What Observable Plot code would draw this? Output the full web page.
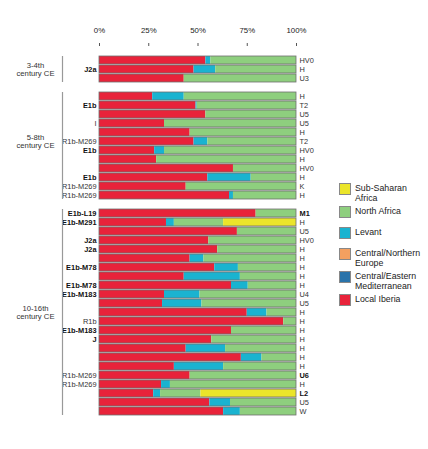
<!DOCTYPE html>
<html>
<head>
<meta charset="utf-8">
<script src="https://cdn.jsdelivr.net/npm/d3@7"></script>
<script src="https://cdn.jsdelivr.net/npm/@observablehq/plot@0.6"></script>
<style>
  html, body { margin: 0; padding: 0; background: #fff; }
  #wrap { position: relative; width: 428px; height: 449px; font-family: "Liberation Sans", Arial, sans-serif; }
  #legend { position: absolute; left: 339px; top: 183px; font-size: 8.8px; color: #222; }
  .item { display: flex; align-items: flex-start; margin-bottom: 3px; min-height: 18px; }
  .sw { width: 12px; height: 12px; box-sizing: border-box; border: 1px solid #888; margin-right: 4px; flex: none; }
  .lab { white-space: pre-line; line-height: 10px; margin-top: 0px; }
</style>
</head>
<body>
<div id="wrap"><div id="legend"></div></div>
<script>
// Ancestry components (stack order left to right) and colours
const components = ["Local Iberia", "Central/Eastern Mediterranean", "Central/Northern Europe", "Levant", "North Africa", "Sub-Saharan Africa"];
const colors = ["#e8233a", "#2a73aa", "#f4a060", "#1ab3d0", "#8ecf7e", "#ebe52a"];
const legendOrder = ["Sub-Saharan Africa", "North Africa", "Levant", "Central/Northern Europe", "Central/Eastern Mediterranean", "Local Iberia"];
const legendText = ["Sub-Saharan\nAfrica", "North Africa", "Levant", "Central/Northern\nEurope", "Central/Eastern\nMediterranean", "Local Iberia"];

// Period groups
const groups = ["3-4th\ncentury CE", "5-8th\ncentury CE", "10-16th\ncentury CE"];
const groupSizes = [3, 12, 23];

// Per-individual rows (top to bottom)
const yHaplo = [
  "", "J2a", "",
  "", "E1b", "", "I", "", "R1b-M269", "E1b", "", "", "E1b", "R1b-M269", "R1b-M269",
  "E1b-L19", "E1b-M291", "", "J2a", "J2a", "", "E1b-M78", "", "E1b-M78", "E1b-M183", "", "", "R1b", "E1b-M183", "J", "", "", "", "R1b-M269", "R1b-M269", "", "", ""
];
const yBold = [
  0, 1, 0,
  0, 1, 0, 0, 0, 0, 1, 0, 0, 1, 0, 0,
  1, 1, 0, 1, 1, 0, 1, 0, 1, 1, 0, 0, 0, 1, 1, 0, 0, 0, 0, 0, 0, 0, 0
];
const mtDNA = [
  "HV0", "H", "U3",
  "H", "T2", "U5", "U5", "H", "T2", "HV0", "H", "HV0", "H", "K", "H",
  "M1", "H", "U5", "HV0", "H", "H", "H", "H", "H", "U4", "U5", "H", "H", "H", "H", "H", "H", "H", "U6", "H", "L2", "U5", "W"
];
const mtBold = [
  0, 0, 0,
  0, 0, 0, 0, 0, 0, 0, 0, 0, 0, 0, 0,
  1, 0, 0, 0, 0, 0, 0, 0, 0, 0, 0, 0, 0, 0, 0, 0, 0, 0, 1, 0, 1, 0, 0
];
const localIberia = [
  54, 48, 43,
  27, 49, 54, 33, 46, 48, 28, 29, 68, 55, 44, 66,
  79.5, 34, 70, 55.5, 60, 46, 58.5, 43, 67, 33, 32, 75, 93.5, 67, 57, 44, 72, 38, 46, 31.5, 27.5, 56, 63
];
const levant = [
  2.5, 11, 0,
  16, 0.6, 0, 0, 0, 7, 5, 0, 0, 22, 0, 2,
  0, 4, 0, 0, 0, 7, 12, 28.5, 8.5, 18, 20, 10, 0, 0, 0, 20, 10.5, 25, 0, 4.5, 3.5, 10.5, 8.5
];
const northAfrica = [
  43.5, 41, 57,
  57, 50.4, 46, 67, 54, 45, 67, 71, 32, 23, 56, 32,
  20.5, 25, 30, 44.5, 40, 47, 29.5, 28.5, 24.5, 49, 48, 15, 6.5, 33, 43, 36, 17.5, 37, 54, 64, 20.5, 33.5, 28.5
];
const subSaharan = [
  0, 0, 0,
  0, 0, 0, 0, 0, 0, 0, 0, 0, 0, 0, 0,
  0, 37, 0, 0, 0, 0, 0, 0, 0, 0, 0, 0, 0, 0, 0, 0, 0, 0, 0, 0, 48.5, 0, 0
];
const xTicks = [0, 25, 50, 75, 100];

// Build rows with spacer rows between groups
const rows = [];
const domain = [];
const groupData = [];
let k = 0;
groupSizes.forEach((n, g) => {
  if (g > 0) domain.push("sp" + g);
  const ids = [];
  for (let i = 0; i < n; i++, k++) {
    const id = "r" + k;
    ids.push(id);
    domain.push(id);
    rows.push({id, yh: yHaplo[k], yb: yBold[k], mt: mtDNA[k], mb: mtBold[k],
      vals: {"Local Iberia": localIberia[k], "Levant": levant[k], "North Africa": northAfrica[k], "Sub-Saharan Africa": subSaharan[k]}});
  }
  groupData.push({label: groups[g], first: ids[0], last: ids[n - 1], mid: ids[Math.floor((n - 1) / 2)]});
});

const segs = [];
rows.forEach(r => {
  components.forEach(c => {
    const v = r.vals[c] || 0;
    if (v > 0) segs.push({id: r.id, comp: c, value: v});
  });
});

const font = "Liberation Sans, Arial, sans-serif";
const chart = Plot.plot({
  width: 428,
  height: 449,
  marginLeft: 99,
  marginRight: 132,
  marginTop: 45,
  marginBottom: 22,
  style: {fontFamily: font, background: "white", color: "#222"},
  x: {domain: [0, 100], axis: null, label: null},
  y: {domain, paddingInner: 0.1, paddingOuter: 0.05, axis: null, label: null},
  color: {domain: components, range: colors},
  marks: [
    Plot.axisX({anchor: "top", ticks: xTicks, tickFormat: d => d + "%", tickSize: 3, tickPadding: 10, fontSize: 7.8, stroke: "#555", label: null}),
    Plot.barX(segs, Plot.stackX({y: "id", x: "value", fill: "comp", order: components})),
    Plot.barX(rows, {y: "id", x1: 0, x2: 100, fill: "none", stroke: "#6f6f6f", strokeWidth: 0.8}),
    Plot.text(rows.filter(d => d.yh && !d.yb), {y: "id", text: "yh", frameAnchor: "left", textAnchor: "end", dx: -3, fontSize: 7.4, fill: "#333"}),
    Plot.text(rows.filter(d => d.yh && d.yb), {y: "id", text: "yh", frameAnchor: "left", textAnchor: "end", dx: -3, fontSize: 7.4, fontWeight: "bold", fill: "#111"}),
    Plot.text(rows.filter(d => !d.mb), {y: "id", text: "mt", frameAnchor: "right", textAnchor: "start", dx: 3, fontSize: 7.4, fill: "#333"}),
    Plot.text(rows.filter(d => d.mb), {y: "id", text: "mt", frameAnchor: "right", textAnchor: "start", dx: 3, fontSize: 7.4, fontWeight: "bold", fill: "#111"}),
    Plot.ruleX(groupData, {x: 0, y1: "first", y2: "last", dx: -37, stroke: "#999", strokeWidth: 1.2}),
    Plot.text(groupData, {y: "mid", text: "label", frameAnchor: "left", dx: -64, textAnchor: "middle", lineAnchor: "middle", fontSize: 7.7, lineHeight: 1.1, fill: "#333"})
  ]
});
document.getElementById("wrap").prepend(chart);

// HTML legend
const legend = document.getElementById("legend");
legendOrder.forEach((c, i) => {
  const item = document.createElement("div");
  item.className = "item";
  const sw = document.createElement("div");
  sw.className = "sw";
  sw.style.background = colors[components.indexOf(c)];
  const lab = document.createElement("div");
  lab.className = "lab";
  lab.textContent = legendText[i];
  item.append(sw, lab);
  legend.append(item);
});
</script>
</body>
</html>
